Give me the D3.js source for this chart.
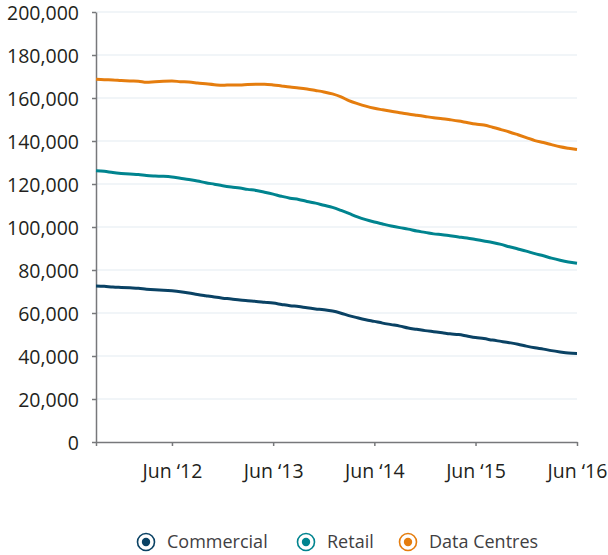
<!DOCTYPE html>
<html>
<head>
<meta charset="utf-8">
<script src="https://cdnjs.cloudflare.com/ajax/libs/d3/7.8.5/d3.min.js"></script>
<style>
  body { margin: 0; background: #fff; }
  svg { display: block; font-family: "Open Sans", sans-serif; }
</style>
</head>
<body>
<script>
// monthly values, Sep 2011 to Jun 2016
var startMonth = new Date(2011, 8, 1);

var commercial = [72.6, 72.4, 72.1, 71.9, 71.7, 71.5, 71.1, 70.8, 70.6, 70.3,
  69.9, 69.3, 68.6, 68.0, 67.4, 66.9, 66.5, 66.0, 65.7, 65.4,
  65.0, 64.6, 64.0, 63.4, 63.0, 62.4, 61.9, 61.5, 60.9, 59.9,
  58.8, 57.8, 56.9, 56.1, 55.3, 54.6, 53.9, 53.0, 52.4, 51.8,
  51.3, 50.8, 50.3, 50.0, 49.3, 48.6, 48.1, 47.4, 46.8, 46.2,
  45.5, 44.6, 43.8, 43.2, 42.5, 41.9, 41.4, 41.2];

var retail = [126.2, 125.9, 125.3, 124.9, 124.6, 124.4, 123.9, 123.7, 123.6, 123.3,
  122.7, 122.1, 121.4, 120.6, 119.9, 119.2, 118.6, 118.1, 117.5, 117.0,
  116.2, 115.3, 114.3, 113.4, 112.8, 111.9, 111.1, 110.1, 109.1, 107.7,
  106.3, 104.7, 103.4, 102.3, 101.4, 100.5, 99.7, 99.0, 98.1, 97.5,
  96.8, 96.4, 95.9, 95.4, 94.9, 94.2, 93.5, 92.8, 91.9, 90.8,
  89.8, 88.8, 87.6, 86.6, 85.5, 84.5, 83.7, 83.1];

var dataCentres = [168.7, 168.5, 168.4, 168.1, 167.9, 167.8, 167.3, 167.6, 167.8, 167.9,
  167.6, 167.4, 167.0, 166.6, 166.2, 165.9, 166.1, 166.0, 166.3, 166.4,
  166.4, 166.1, 165.6, 165.1, 164.7, 164.2, 163.5, 162.8, 161.9, 160.5,
  158.8, 157.4, 156.2, 155.2, 154.5, 153.8, 153.1, 152.6, 152.0, 151.4,
  150.8, 150.4, 149.9, 149.3, 148.6, 147.9, 147.4, 146.4, 145.3, 144.2,
  142.9, 141.6, 140.2, 139.3, 138.3, 137.3, 136.6, 136.0];

var seriesNames = ["Commercial", "Retail", "Data Centres"];
var seriesColors = ["#0a4264", "#00848f", "#e57d0e"];
var xTickLabels = ["Jun \u201812", "Jun \u201813", "Jun \u201814", "Jun \u201815", "Jun \u201816"];
var xTickDates = [new Date(2012, 5, 1), new Date(2013, 5, 1), new Date(2014, 5, 1),
  new Date(2015, 5, 1), new Date(2016, 5, 1)];
var yTicks = [0, 20000, 40000, 60000, 80000, 100000, 120000, 140000, 160000, 180000, 200000];

var width = 608, height = 555;
var margin = {top: 12, right: 31, bottom: 113, left: 96};

var svg = d3.select("body").append("svg")
  .attr("width", width)
  .attr("height", height);

var months = commercial.map(function(d, i){
  return d3.timeMonth.offset(startMonth, i);
});

var x = d3.scaleTime()
  .domain([months[0], months[months.length - 1]])
  .range([margin.left, width - margin.right]);

var y = d3.scaleLinear()
  .domain([0, 200000])
  .range([height - margin.bottom, margin.top]);

//gridlines
svg.append("g").selectAll("line")
  .data(yTicks.slice(1))
  .enter().append("line")
  .attr("x1", margin.left)
  .attr("x2", width - margin.right)
  .attr("y1", function(d){ return y(d); })
  .attr("y2", function(d){ return y(d); })
  .attr("stroke", "#e3ebf1")
  .attr("stroke-width", 1.2);

//y axis
var yAxis = svg.append("g")
  .attr("transform", "translate(" + margin.left + ",0)")
  .call(d3.axisLeft(y).tickValues(yTicks).tickFormat(d3.format(",")).tickSize(4).tickSizeOuter(0).tickPadding(13));

//x axis
var xAxis = svg.append("g")
  .attr("transform", "translate(0," + y(0) + ")")
  .call(d3.axisBottom(x).tickValues([months[0]].concat(xTickDates))
    .tickFormat(function(d, i){ return i === 0 ? "" : xTickLabels[i - 1]; })
    .tickSize(4).tickSizeOuter(0).tickPadding(18));

[yAxis, xAxis].forEach(function(ax){
  ax.select(".domain").attr("stroke", "#77787b").attr("stroke-width", 1.5);
  ax.selectAll(".tick line").attr("stroke", "#77787b").attr("stroke-width", 1.5);
  ax.selectAll(".tick text")
    .attr("fill", "#231f20")
    .style("font-size", "19.5px")
    .style("font-family", "'Open Sans', sans-serif");
});
yAxis.selectAll(".tick text").attr("dy", "0.38em");

//lines
var line = d3.line()
  .x(function(d, i){ return x(months[i]); })
  .y(function(d){ return y(d * 1000); })
  .curve(d3.curveMonotoneX);

[commercial, retail, dataCentres].forEach(function(s, k){
  svg.append("path")
    .datum(s)
    .attr("fill", "none")
    .attr("stroke", seriesColors[k])
    .attr("stroke-width", 3)
    .attr("stroke-linejoin", "round")
    .attr("d", line);
});

//legend
var legendX = [146, 306, 408];
var legend = svg.append("g").selectAll("g")
  .data(seriesNames)
  .enter().append("g")
  .attr("transform", function(d, i){ return "translate(" + legendX[i] + ",542)"; });

legend.append("circle")
  .attr("r", 8.5)
  .attr("fill", "#fff")
  .attr("stroke", function(d, i){ return seriesColors[i]; })
  .attr("stroke-width", 1.6);

legend.append("circle")
  .attr("r", 4.2)
  .attr("fill", function(d, i){ return seriesColors[i]; });

legend.append("text")
  .attr("x", 21)
  .attr("dy", "0.35em")
  .attr("fill", "#414042")
  .style("font-size", "18px")
  .text(function(d){ return d; });
</script>
</body>
</html>
